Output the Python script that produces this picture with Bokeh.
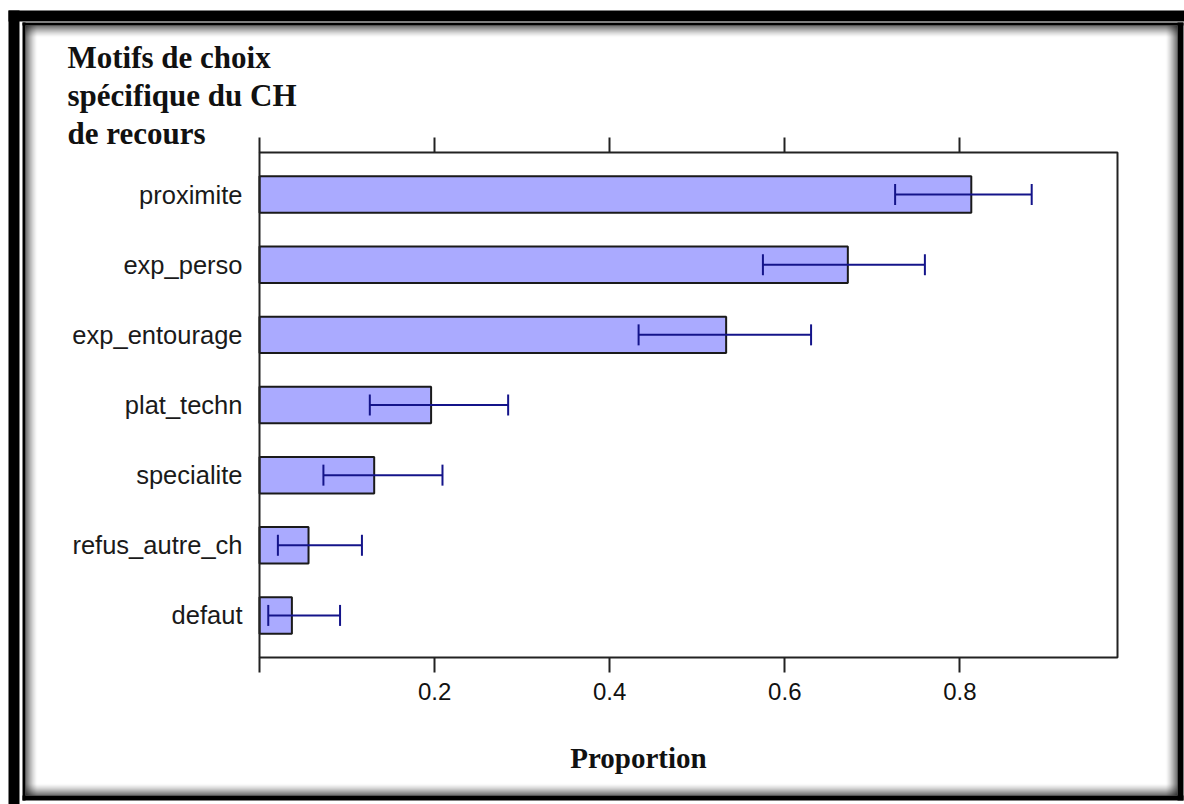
from bokeh.plotting import figure
from bokeh.models import (ColumnDataSource, Range1d, LinearAxis, FixedTicker,
                          Whisker, TeeHead, BoxAnnotation, Label)
from bokeh.embed import file_html
from bokeh.resources import INLINE

# Motifs de choix du CH de recours: proportion and confidence interval
categories = ["proximite", "exp_perso", "exp_entourage", "plat_techn",
              "specialite", "refus_autre_ch", "defaut"]
proportion = [0.813, 0.672, 0.533, 0.196, 0.131, 0.056, 0.037]
ci_lower = [0.726, 0.575, 0.433, 0.126, 0.073, 0.021, 0.010]
ci_upper = [0.882, 0.760, 0.630, 0.284, 0.209, 0.117, 0.092]
x_ticks = [0.0, 0.2, 0.4, 0.6, 0.8]
x_tick_labels = {0.0: "", 0.2: "0.2", 0.4: "0.4", 0.6: "0.6", 0.8: "0.8"}
title_lines = ["Motifs de choix", "spécifique du CH", "de recours"]
x_label = "Proportion"

# page geometry (pixels)
W, H = 1184, 804
BOX_L, BOX_R, BOX_T, BOX_B = 259, 1117, 152, 657
SERIF = "Liberation Serif"
SANS = "Liberation Sans"

# data limits of the panel box
n = len(categories)
x_lim = (0.0, 0.98)
y_lim = (0.4, n + 0.6)
y_pos = [n - i for i in range(n)]

# the plotting frame spans the whole page; the panel box sits inside it
sx = (BOX_R - BOX_L) / (x_lim[1] - x_lim[0])
sy = (BOX_B - BOX_T) / (y_lim[1] - y_lim[0])
x_range = Range1d(x_lim[0] - BOX_L / sx, x_lim[1] + (W - BOX_R) / sx)
y_range = Range1d(y_lim[0] - (H - BOX_B) / sy, y_lim[1] + BOX_T / sy)

src = ColumnDataSource(dict(y=y_pos, cat=categories, prop=proportion,
                            lo=ci_lower, hi=ci_upper))

p = figure(width=W, height=H, output_backend="svg", toolbar_location=None,
           x_range=x_range, y_range=y_range,
           x_axis_location=None, y_axis_location=None,
           min_border=0, min_border_left=0, min_border_right=0,
           min_border_top=0, min_border_bottom=0)
p.grid.visible = False
p.outline_line_color = None
p.background_fill_color = "white"
p.border_fill_color = "white"

# bars
p.hbar(y="y", left=0, right="prop", height=0.52, source=src,
       fill_color="#aaaaff", line_color="#1a1a1a", line_width=2)

# confidence intervals
p.add_layout(Whisker(source=src, base="y", lower="lo", upper="hi",
                     dimension="width", line_color="#14148a", line_width=2,
                     level="overlay",
                     lower_head=TeeHead(size=21, line_color="#14148a", line_width=2),
                     upper_head=TeeHead(size=21, line_color="#14148a", line_width=2)))

# panel box
p.quad(left=[x_lim[0]], right=[x_lim[1]], bottom=[y_lim[0]], top=[y_lim[1]],
       fill_color=None, line_color="#222222", line_width=2)


def x_axis(loc, side, labels):
    ax = LinearAxis(fixed_location=loc, ticker=FixedTicker(ticks=x_ticks),
                    bounds=x_lim)
    ax.axis_line_color = None
    ax.minor_tick_line_color = None
    ax.major_tick_in = 0
    ax.major_tick_out = 15
    ax.major_tick_line_width = 2
    ax.major_tick_line_color = "#222222"
    if labels:
        ax.major_label_overrides = x_tick_labels
        ax.major_label_standoff = 10
        ax.major_label_text_font = SANS
        ax.major_label_text_font_size = "24px"
        ax.major_label_text_color = "#111111"
    else:
        ax.major_label_text_font_size = "0px"
        ax.major_label_text_color = None
    p.add_layout(ax, side)


x_axis(y_lim[0], "below", True)
x_axis(y_lim[1], "above", False)

ya = LinearAxis(fixed_location=x_lim[0], ticker=FixedTicker(ticks=y_pos),
                major_label_overrides={y: c for y, c in zip(y_pos, categories)},
                bounds=y_lim)
ya.axis_line_color = None
ya.major_tick_line_color = None
ya.major_tick_in = 0
ya.major_tick_out = 0
ya.minor_tick_line_color = None
ya.major_label_standoff = 17
ya.major_label_text_font = SANS
ya.major_label_text_font_size = "25.5px"
ya.major_label_text_color = "#1a1a1a"
p.add_layout(ya, "left")


# screen units run from the frame's bottom-left corner, y upwards
def label(x, y, text, size, align):
    p.add_layout(Label(x=x, y=H - y, x_units="screen", y_units="screen",
                       text=text, text_font=SERIF, text_font_style="bold",
                       text_font_size=size, text_color="#111111",
                       text_baseline="alphabetic", text_align=align))


for text, base in zip(title_lines, [57, 95, 133]):
    label(67, base, text, "31px", "left")
label(638, 757, x_label, "29px", "center")


def box(l, r, t, b, color="black", alpha=1.0):
    p.add_layout(BoxAnnotation(left=l, right=r, top=H - t, bottom=H - b,
                               left_units="screen", right_units="screen",
                               top_units="screen", bottom_units="screen",
                               fill_color=color, fill_alpha=alpha,
                               line_color=None, level="overlay"))


# page frame: heavy top/left band
box(8, W, 10, 21)
box(8, 19, 10, H)
# inner frame
box(22, 1183, 22, 25)
box(22, 25, 22, 800)
box(1177, 1183, 22, 800)
box(22, 1183, 795, 800)
# inset shade along the inner frame
for i in range(12):
    a = 0.65 * (1 - i / 12) ** 1.6
    box(25 + i, 26 + i, 25, 795, "#000000", a)
    box(1176 - i, 1177 - i, 25, 795, "#000000", a)
    box(25, 1177, 25 + i, 26 + i, "#000000", a)
    box(25, 1177, 794 - i, 795 - i, "#000000", a)

open("out.html", "w").write(file_html(p, INLINE))
